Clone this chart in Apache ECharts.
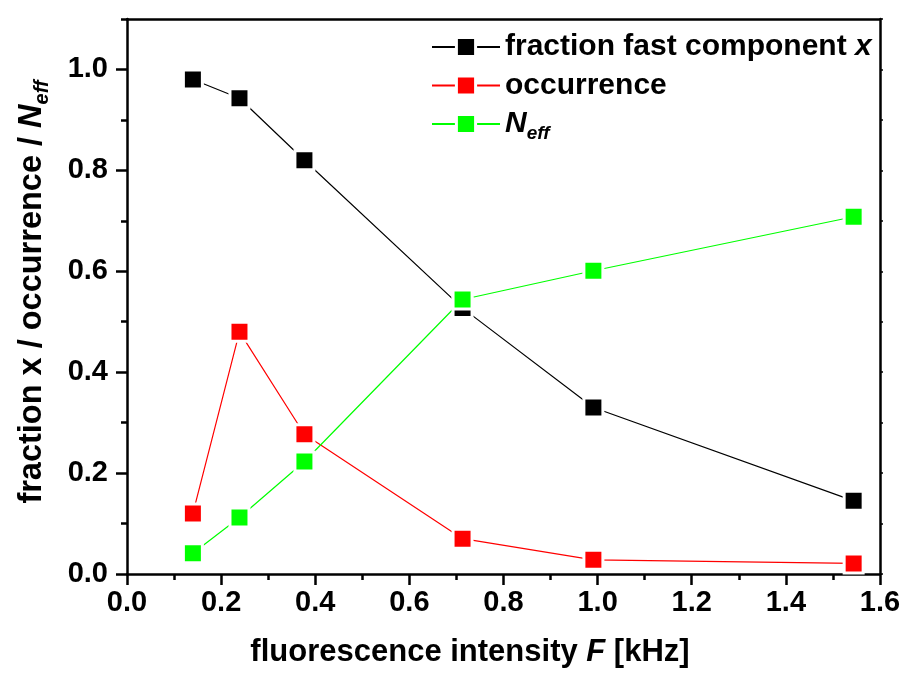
<!DOCTYPE html>
<html>
<head>
<meta charset="utf-8">
<script src="https://cdn.jsdelivr.net/npm/echarts@6/dist/echarts.min.js"></script>
<style>
  html, body { margin: 0; padding: 0; background: #fff; }
  #chart { width: 905px; height: 678px; }
</style>
</head>
<body>
<div id="chart"></div>
<script>
// Fluorescence intensity F [kHz] for each measured point
const intensityF = [0.14, 0.239, 0.377, 0.713, 0.991, 1.544];
// Fraction of the fast component x
const fractionFast = [0.98, 0.943, 0.82, 0.527, 0.330, 0.145];
// Occurrence
const occurrence = [0.120, 0.480, 0.277, 0.070, 0.028, 0.021];
// Effective number N_eff
const nEff = [0.041, 0.112, 0.223, 0.544, 0.601, 0.708];

const seriesNames = ['fraction fast component x', 'occurrence', 'Neff'];
const yLabelValues = [0, 0.2, 0.4, 0.6, 0.8, 1.0];

const FONT = "'Liberation Sans', Arial, sans-serif";
const INK = '#000000';
const COLORS = ['#000000', '#ff0000', '#00ff00'];

function pairs(xs, ys) {
  return xs.map((x, i) => [x, ys[i]]);
}

function richSet(size, lineHeight, subSize) {
  const base = { fontFamily: FONT, fontWeight: 'bold', fontSize: size, lineHeight: lineHeight, color: INK };
  return {
    b: base,
    bi: Object.assign({}, base, { fontStyle: 'italic' }),
    sub: Object.assign({}, base, {
      fontStyle: 'italic', fontSize: subSize, lineHeight: subSize, verticalAlign: 'bottom'
    })
  };
}

const legendLabels = {
  'fraction fast component x': '{b|fraction fast component }{bi|x}',
  'occurrence': '{b|occurrence}',
  'Neff': '{bi|N}{sub|eff}'
};

function makeSeries(name, values, color) {
  return {
    name: name,
    type: 'line',
    data: pairs(intensityF, values),
    symbol: 'rect',
    symbolSize: 19,
    showSymbol: true,
    itemStyle: { color: color, borderColor: '#ffffff', borderWidth: 3 },
    lineStyle: { color: color, width: 1.2 },
    emphasis: { disabled: true },
    animation: false
  };
}

const axisLineStyle = { color: INK, width: 2.5 };
const tickLabel = {
  fontFamily: FONT, fontWeight: 'bold', fontSize: 29, color: INK
};

const option = {
  backgroundColor: '#ffffff',
  animation: false,
  grid: {
    left: 127, right: 25, top: 19, bottom: 104,
    containLabel: false,
    outerBoundsMode: 'none'
  },
  legend: {
    orient: 'vertical',
    left: 431,
    top: 32,
    padding: 0,
    itemGap: 8.5,
    itemWidth: 68,
    itemHeight: 24,
    selectedMode: false,
    data: seriesNames,
    itemStyle: { borderColor: '#ffffff', borderWidth: 3 },
    formatter: name => legendLabels[name],
    textStyle: { rich: richSet(30, 38, 19) }
  },
  xAxis: [
    {
      type: 'value',
      position: 'bottom',
      min: 0, max: 1.6, interval: 0.2,
      axisLine: { show: true, onZero: false, lineStyle: axisLineStyle },
      axisTick: { show: true, inside: false, length: 11, lineStyle: axisLineStyle },
      minorTick: { show: true, splitNumber: 2, length: 6, lineStyle: axisLineStyle },
      splitLine: { show: false },
      minorSplitLine: { show: false },
      axisLabel: Object.assign({ margin: 14, formatter: v => v.toFixed(1) }, tickLabel),
      name: '{b|fluorescence intensity }{bi|F}{b| [kHz]}',
      nameLocation: 'middle',
      nameGap: 59,
      nameTextStyle: { rich: richSet(31, 38, 19), padding: [0, 67, 0, 0] }
    },
    {
      type: 'value',
      position: 'top',
      min: 0, max: 1.6,
      axisLine: { show: true, onZero: false, lineStyle: axisLineStyle },
      axisTick: { show: false },
      axisLabel: { show: false },
      splitLine: { show: false }
    }
  ],
  yAxis: [
    {
      type: 'value',
      position: 'left',
      min: 0, max: 1.1, interval: 0.1,
      axisLine: { show: true, onZero: false, lineStyle: axisLineStyle },
      axisTick: { show: true, inside: false, length: 11, lineStyle: axisLineStyle, customValues: yLabelValues },
      splitLine: { show: false },
      axisLabel: Object.assign({ margin: 19, customValues: yLabelValues, formatter: v => v.toFixed(1) }, tickLabel),
      name: '{b|fraction x / occurrence / }{bi|N}{sub|eff}',
      nameLocation: 'middle',
      nameRotate: 90,
      nameGap: 75,
      nameTextStyle: { rich: richSet(32.5, 40, 20), padding: [0, 0, 0, 9] }
    },
    {
      // minor tick marks every 0.1 on the left spine
      type: 'value',
      position: 'left',
      min: 0, max: 1.1, interval: 0.1,
      axisLine: { show: false },
      axisTick: { show: true, inside: false, length: 6, lineStyle: axisLineStyle },
      axisLabel: { show: false },
      splitLine: { show: false }
    },
    {
      type: 'value',
      position: 'right',
      min: 0, max: 1.1, interval: 0.1,
      axisLine: { show: true, onZero: false, lineStyle: axisLineStyle },
      axisTick: { show: true, inside: false, length: 3, lineStyle: { color: INK, width: 1.5 } },
      axisLabel: { show: false },
      splitLine: { show: false }
    }
  ],
  series: [
    makeSeries(seriesNames[0], fractionFast, COLORS[0]),
    makeSeries(seriesNames[1], occurrence, COLORS[1]),
    makeSeries(seriesNames[2], nEff, COLORS[2])
  ]
};

const chart = echarts.init(document.getElementById('chart'), null, { renderer: 'canvas' });
chart.setOption(option);
</script>
</body>
</html>
